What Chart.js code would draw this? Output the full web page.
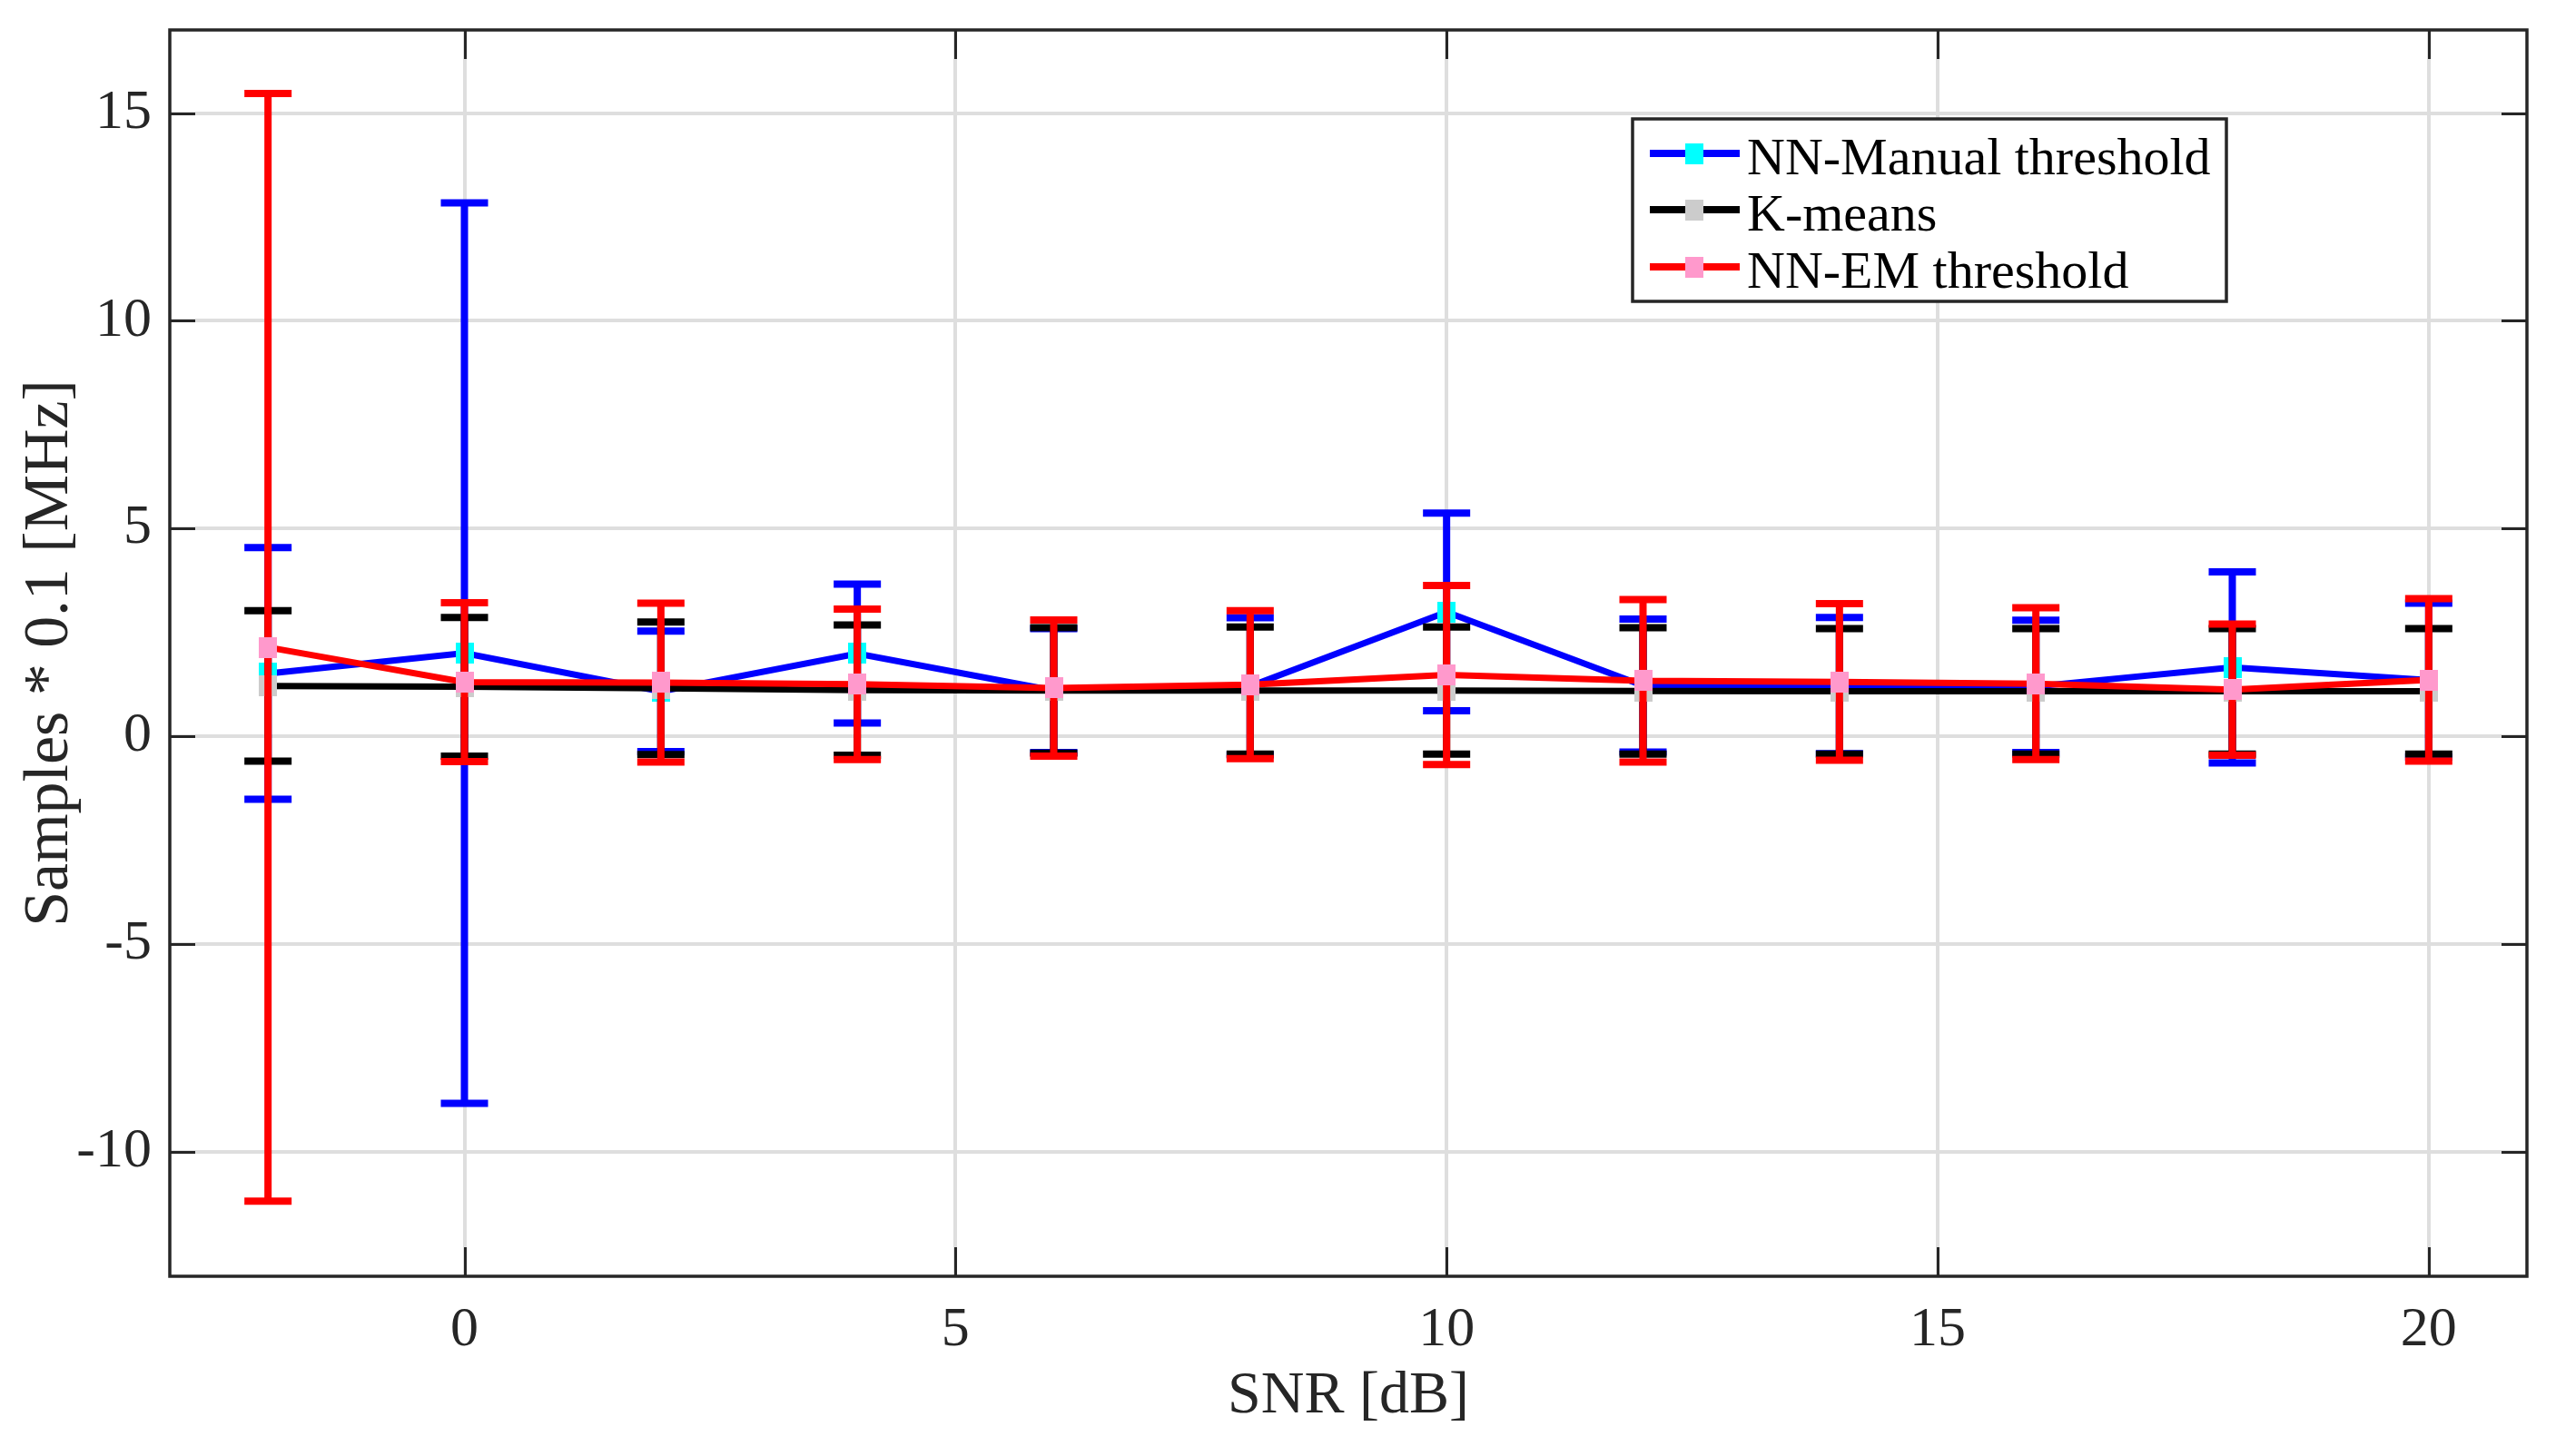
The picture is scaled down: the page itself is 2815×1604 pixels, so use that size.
<!DOCTYPE html>
<html>
<head>
<meta charset="utf-8">
<title>SNR vs samples</title>
<script src="https://cdn.jsdelivr.net/npm/chart.js@4"></script>
<style>
    html, body { margin: 0; padding: 0; background: #fff; }
    canvas { display: block; }
</style>
</head>
<body>
<canvas id="chart" width="2815" height="1604"></canvas>
<script>
// --- DATA ---
const snr = [-2, 0, 2, 4, 6, 8, 10, 12, 14, 16, 18, 20];
const nnManualMean = [1.51, 2.00, 1.08, 1.99, 1.10, 1.20, 2.99, 1.22, 1.22, 1.20, 1.655, 1.35];
const nnManualErr = [3.03, 10.84, 1.45, 1.67, 1.49, 1.65, 2.38, 1.60, 1.64, 1.59, 2.30, 1.85];
const kmeansMean = [1.21, 1.19, 1.155, 1.11, 1.10, 1.10, 1.10, 1.09, 1.08, 1.08, 1.08, 1.08];
const kmeansErr = [1.81, 1.67, 1.595, 1.57, 1.51, 1.53, 1.53, 1.52, 1.51, 1.51, 1.51, 1.51];
const nnEmMean = [2.14, 1.30, 1.29, 1.25, 1.16, 1.24, 1.475, 1.335, 1.305, 1.265, 1.12, 1.355];
const nnEmErr = [13.33, 1.91, 1.91, 1.81, 1.64, 1.78, 2.155, 1.955, 1.885, 1.825, 1.58, 1.955];
const seriesLabels = ['NN-Manual threshold', 'K-means', 'NN-EM threshold'];
const xTicks = [0, 5, 10, 15, 20];
const yTicks = [-10, -5, 0, 5, 10, 15];

const axisColor = '#262626';
const serif = '"Liberation Serif", "Times New Roman", serif';

// square marker as a small canvas, so it is a bit taller than wide like the original
const makeMarker = (color, w, h) => {
    const c = document.createElement('canvas');
    c.width = w;
    c.height = h;
    const g = c.getContext('2d');
    g.fillStyle = color;
    g.fillRect(0, 0, w, h);
    return c;
};

const makeSeries = (label, means, errors, lineColor, markerColor, order) => ({
    label,
    data: snr.map((x, i) => ({ x, y: means[i] })),
    errors,
    order,
    borderColor: lineColor,
    backgroundColor: markerColor,
    borderWidth: 7,
    tension: 0,
    pointStyle: makeMarker(markerColor, 20, 23),
    pointRadius: 12,
    pointHoverRadius: 12
});

// --- PLUGINS ---
const errorBars = {
    id: 'errorBars',
    beforeDatasetDraw(chart, args) {
        const ds = chart.data.datasets[args.index];
        if (!ds.errors) return;
        const { ctx, scales: { x, y } } = chart;
        ctx.save();
        ctx.strokeStyle = ds.borderColor;
        ctx.lineWidth = 8;
        ctx.lineCap = 'butt';
        ds.data.forEach((p, i) => {
            const px = x.getPixelForValue(p.x);
            const top = y.getPixelForValue(p.y + ds.errors[i]);
            const bot = y.getPixelForValue(p.y - ds.errors[i]);
            ctx.beginPath();
            ctx.moveTo(px, top);
            ctx.lineTo(px, bot);
            ctx.moveTo(px - 26, top);
            ctx.lineTo(px + 26, top);
            ctx.moveTo(px - 26, bot);
            ctx.lineTo(px + 26, bot);
            ctx.stroke();
        });
        ctx.restore();
    }
};

const axesBox = {
    id: 'axesBox',
    afterDatasetsDraw(chart) {
        const { ctx, chartArea: a, scales: { x, y } } = chart;
        ctx.save();
        ctx.strokeStyle = axisColor;
        ctx.lineWidth = 3;
        ctx.beginPath();
        xTicks.forEach(v => {
            const px = Math.round(x.getPixelForValue(v)) + 0.5;
            ctx.moveTo(px, a.bottom);
            ctx.lineTo(px, a.bottom - 32);
            ctx.moveTo(px, a.top);
            ctx.lineTo(px, a.top + 32);
        });
        yTicks.forEach(v => {
            const py = Math.round(y.getPixelForValue(v)) + 0.5;
            ctx.moveTo(a.left, py);
            ctx.lineTo(a.left + 28, py);
            ctx.moveTo(a.right, py);
            ctx.lineTo(a.right - 28, py);
        });
        ctx.stroke();
        ctx.lineWidth = 3.5;
        ctx.strokeRect(a.left, a.top, a.right - a.left, a.bottom - a.top);
        ctx.restore();
    }
};

const boxLegend = {
    id: 'boxLegend',
    afterDraw(chart) {
        const ctx = chart.ctx;
        const box = { left: 1798, top: 131, width: 654, height: 201 };
        const rows = [169, 231, 294];
        ctx.save();
        ctx.fillStyle = '#fff';
        ctx.fillRect(box.left, box.top, box.width, box.height);
        ctx.strokeStyle = axisColor;
        ctx.lineWidth = 3.5;
        ctx.strokeRect(box.left, box.top, box.width, box.height);
        ctx.font = '58px ' + serif;
        ctx.textBaseline = 'alphabetic';
        ctx.textAlign = 'left';
        chart.data.datasets.forEach((ds, i) => {
            const cy = rows[i];
            ctx.strokeStyle = ds.borderColor;
            ctx.lineWidth = 8;
            ctx.beginPath();
            ctx.moveTo(1817, cy);
            ctx.lineTo(1916, cy);
            ctx.stroke();
            const m = ds.pointStyle;
            ctx.drawImage(m, 1866 - m.width / 2, cy - m.height / 2);
            ctx.fillStyle = '#000';
            ctx.fillText(ds.label, 1924, cy + 23);
        });
        ctx.restore();
    }
};

// --- CHART ---
const datasets = [
    makeSeries(seriesLabels[0], nnManualMean, nnManualErr, '#0000FF', '#00FFFF', 3),
    makeSeries(seriesLabels[1], kmeansMean, kmeansErr, '#000000', '#CCCCCC', 2),
    makeSeries(seriesLabels[2], nnEmMean, nnEmErr, '#FF0000', '#FF99CC', 1)
];

new Chart(document.getElementById('chart'), {
    type: 'line',
    data: { datasets },
    plugins: [errorBars, axesBox, boxLegend],
    options: {
        responsive: false,
        animation: false,
        devicePixelRatio: 1,
        events: [],
        layout: { padding: { top: 33, right: 32, left: 0, bottom: 0 } },
        plugins: {
            legend: { display: false },
            tooltip: { enabled: false }
        },
        scales: {
            x: {
                type: 'linear',
                min: -3,
                max: 21,
                afterBuildTicks: s => { s.ticks = xTicks.map(value => ({ value })); },
                afterFit: s => {
                    s.height = 198;
                    s.paddingLeft = 0;
                    s.paddingRight = 0;
                },
                grid: { color: '#DEDEDE', lineWidth: 4, drawTicks: false },
                border: { display: false },
                ticks: {
                    padding: 23,
                    color: axisColor,
                    font: { family: serif, size: 62 }
                },
                title: {
                    display: true,
                    text: 'SNR [dB]',
                    color: axisColor,
                    font: { family: serif, size: 66 },
                    padding: { top: 0, bottom: 26 }
                }
            },
            y: {
                type: 'linear',
                min: -13,
                max: 17,
                afterBuildTicks: s => { s.ticks = yTicks.map(value => ({ value })); },
                afterFit: s => {
                    s.width = 187;
                    s.paddingTop = 0;
                    s.paddingBottom = 0;
                },
                grid: { color: '#DEDEDE', lineWidth: 4, drawTicks: false },
                border: { display: false },
                ticks: {
                    padding: 20,
                    color: axisColor,
                    font: { family: serif, size: 62 }
                },
                title: {
                    display: true,
                    text: 'Samples * 0.1 [MHz]',
                    color: axisColor,
                    font: { family: serif, size: 70 },
                    padding: { top: 14, bottom: 0 }
                }
            }
        }
    }
});
</script>
</body>
</html>
